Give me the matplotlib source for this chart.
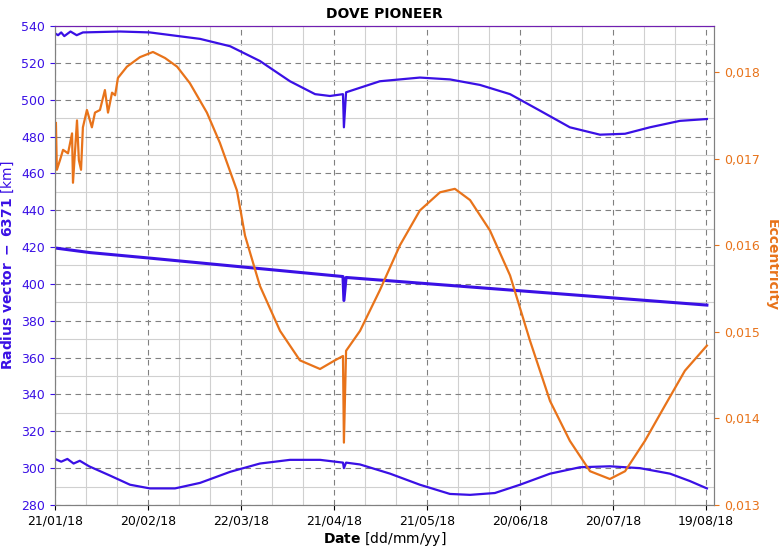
import matplotlib.pyplot as plt
from matplotlib.ticker import MultipleLocator, FuncFormatter

# days since 21/01/18
apo_days = [0, 1, 2, 3, 5, 7, 9, 21, 30.6, 46.8, 56.5, 66.1, 75.8, 83.9, 88.7, 92.9, 93.2, 93.9,
            104.8, 117.7, 127.4, 137.1, 146.8, 156.5, 166.1, 175.8, 183.9, 191.9, 201.6, 210.3]
apo_km = [536, 535, 536.5, 534.5, 537, 535, 536.5, 537, 536.5, 533, 529, 521, 510, 503, 502, 503, 485, 504,
          510, 512, 511, 508, 503, 494, 485, 481, 481.5, 485, 488.5, 489.5]

mean_days = [0, 11.3, 30.6, 92.9, 93.2, 93.9, 210.3]
mean_km = [419.5, 417, 414, 404, 391, 403.5, 388.5]

peri_days = [0, 2, 4, 6, 8, 11, 17.7, 24.2, 30.6, 38.7, 46.8, 56.5, 66.1, 75.8, 85.5, 92.9, 93.2, 93.9,
             98.4, 108.1, 117.7, 127.4, 133.9, 141.9, 150, 159.7, 169.4, 179, 188.7, 198.4, 204.8, 210.3]
peri_km = [305, 303.5, 305, 302.5, 304, 301, 296, 291, 289, 289, 292, 298, 302.5, 304.5, 304.5, 303, 300, 303,
           302, 297, 291, 286, 285.5, 286.5, 291, 297, 300.5, 301, 300, 297, 293, 289]

ecc_days = [0.3, 0.6, 1.6, 2.6, 4.2, 5.5, 5.8, 7.1, 7.7, 8.4, 9, 10.3, 11.9, 12.9, 14.5, 16.1, 17.1, 18.4,
            19.4, 20.3, 23.2, 27.4, 31.6, 35.5, 39.4, 43.5, 49, 53.2, 58.7, 61.3, 66.1, 72.6, 79, 85.5,
            90.3, 92.9, 93.2, 93.9, 98.4, 104.8, 111.3, 117.7, 124.2, 129, 133.9, 140.3, 146.8, 153.2,
            159.7, 166.1, 172.6, 179, 183.9, 190.3, 196.8, 203.2, 210.3]
ecc = [0.01741, 0.01687, 0.01698, 0.01710, 0.01706, 0.01729, 0.01672, 0.01744, 0.01698, 0.01687, 0.01736,
       0.01756, 0.01736, 0.01753, 0.01756, 0.01779, 0.01753, 0.01776, 0.01773, 0.01793, 0.01806, 0.01817,
       0.01823, 0.01816, 0.01806, 0.01787, 0.01753, 0.01718, 0.01663, 0.01611, 0.01553, 0.01501, 0.01467,
       0.01457, 0.01467, 0.01472, 0.01372, 0.01478, 0.01501, 0.01548, 0.01600, 0.01640, 0.01661, 0.01665,
       0.01652, 0.01617, 0.01565, 0.01490, 0.01420, 0.01374, 0.01339, 0.01330, 0.01339, 0.01374, 0.01415,
       0.01455, 0.01484]

date_labels = ["21/01/18", "20/02/18", "22/03/18", "21/04/18", "21/05/18", "20/06/18", "20/07/18", "19/08/18"]

blue = "#3a10e5"
orange = "#e8731a"

fig = plt.figure(figsize=(7.79, 5.47), dpi=100)
ax = fig.add_axes([0.0706, 0.0768, 0.846, 0.8757])
ax2 = ax.twinx()

ax.plot(apo_days, apo_km, color=blue, lw=1.6)
ax.plot(mean_days, mean_km, color=blue, lw=2.2)
ax.plot(peri_days, peri_km, color=blue, lw=1.6)
ax2.plot(ecc_days, ecc, color=orange, lw=1.6)

ax.set_xlim(0, 212.6)
ax.set_ylim(280, 540)
ax2.set_ylim(0.013, 0.01853)

ax.set_xticks(range(0, 211, 30))
ax.set_xticklabels(date_labels)
ax.xaxis.set_minor_locator(MultipleLocator(10))
ax.yaxis.set_major_locator(MultipleLocator(20))
ax.yaxis.set_minor_locator(MultipleLocator(10))
ax2.yaxis.set_major_locator(MultipleLocator(0.001))
ax2.yaxis.set_major_formatter(FuncFormatter(lambda v, p: f"{v:.3f}".replace(".", ",")))

ax.grid(which="major", color="#808080", ls=(0, (5, 4)), lw=0.8)
ax.grid(which="minor", color="#d0d0d0", ls="-", lw=0.8)
ax.set_axisbelow(True)

ax.tick_params(axis="y", colors=blue, labelsize=9)
ax.tick_params(axis="x", labelsize=9)
ax.tick_params(which="minor", length=0)
ax2.tick_params(axis="y", colors=orange, labelsize=9)
for a in (ax, ax2):
    a.spines["top"].set_color("#7020b0")
    a.spines["left"].set_color("#808080")
    a.spines["right"].set_color("#808080")
    a.spines["bottom"].set_color("#808080")

ax.set_title("DOVE PIONEER", fontweight="bold", fontsize=10, pad=6)
ax.set_xlabel(r"$\bf{Date}$ [dd/mm/yy]", fontsize=10, labelpad=2)
ax.set_ylabel(r"$\bf{Radius\ vector\ -\ 6371}$ [km]", color=blue, fontsize=10)
ax2.set_ylabel("Eccentricity", color=orange, fontweight="bold", fontsize=10, rotation=-90, labelpad=14)

fig.savefig("out.png", dpi=100)
